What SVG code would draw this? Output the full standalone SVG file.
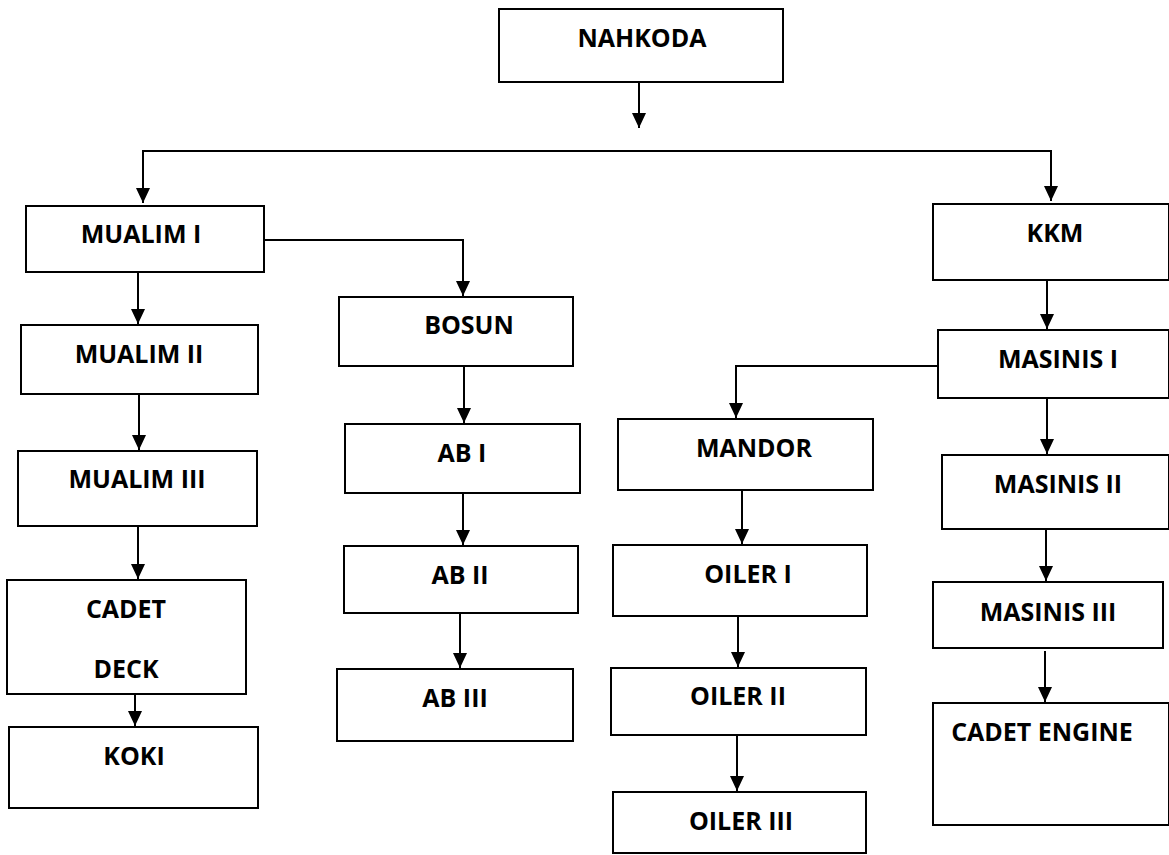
<svg xmlns="http://www.w3.org/2000/svg" width="1169" height="855" viewBox="0 0 1169 855">
<style>
.box{fill:#fff;stroke:#000;stroke-width:2}
.lbl{font-family:"Open Sans","Liberation Sans",sans-serif;font-weight:bold;font-size:25px;fill:#000;text-anchor:middle}
.con{fill:none;stroke:#000;stroke-width:2}
</style>
<defs>
<marker id="ah" markerUnits="userSpaceOnUse" viewBox="0 0 14 15" refX="7" refY="15" markerWidth="14" markerHeight="15" orient="0">
<path d="M0,0 L14,0 L7,15 z" fill="#000"/>
</marker>
</defs>
<rect width="1169" height="855" fill="#fff"/>
<g id="connectors">
<path class="con" d="M639,82 V128" marker-end="url(#ah)"/>
<path class="con" d="M143,203 V151 H1051 V201" marker-end="url(#ah)"/>
<path class="con" d="M143,151 V203" marker-end="url(#ah)"/>
<path class="con" d="M138,272 V324" marker-end="url(#ah)"/>
<path class="con" d="M264,240 H463 V296" marker-end="url(#ah)"/>
<path class="con" d="M139,394 V450" marker-end="url(#ah)"/>
<path class="con" d="M138,526 V579" marker-end="url(#ah)"/>
<path class="con" d="M135,694 V726" marker-end="url(#ah)"/>
<path class="con" d="M464,366 V423" marker-end="url(#ah)"/>
<path class="con" d="M463,493 V545" marker-end="url(#ah)"/>
<path class="con" d="M460,613 V668" marker-end="url(#ah)"/>
<path class="con" d="M1047,280 V329" marker-end="url(#ah)"/>
<path class="con" d="M938,366 H736 V418" marker-end="url(#ah)"/>
<path class="con" d="M742,490 V544" marker-end="url(#ah)"/>
<path class="con" d="M738,616 V667" marker-end="url(#ah)"/>
<path class="con" d="M737,735 V791" marker-end="url(#ah)"/>
<path class="con" d="M1047,398 V454" marker-end="url(#ah)"/>
<path class="con" d="M1046,529 V581" marker-end="url(#ah)"/>
<path class="con" d="M1045,651 V702" marker-end="url(#ah)"/>
</g>
<g id="nahkoda"><rect class="box" x="499" y="9" width="284" height="73"/><text class="lbl" x="642" y="47">NAHKODA</text></g>
<g id="mualim1"><rect class="box" x="26" y="206" width="238" height="66"/><text class="lbl" x="141" y="243">MUALIM I</text></g>
<g id="mualim2"><rect class="box" x="21" y="325" width="237" height="69"/><text class="lbl" x="139" y="363">MUALIM II</text></g>
<g id="mualim3"><rect class="box" x="18" y="451" width="239" height="75"/><text class="lbl" x="137" y="488">MUALIM III</text></g>
<g id="cadetdeck"><rect class="box" x="7" y="580" width="239" height="114"/><text class="lbl" x="126" y="618">CADET</text><text class="lbl" x="126" y="678">DECK</text></g>
<g id="koki"><rect class="box" x="9" y="727" width="249" height="81"/><text class="lbl" x="134" y="765">KOKI</text></g>
<g id="bosun"><rect class="box" x="339" y="297" width="234" height="69"/><text class="lbl" x="469" y="334">BOSUN</text></g>
<g id="ab1"><rect class="box" x="345" y="424" width="235" height="69"/><text class="lbl" x="462" y="462">AB I</text></g>
<g id="ab2"><rect class="box" x="344" y="546" width="234" height="67"/><text class="lbl" x="460" y="584">AB II</text></g>
<g id="ab3"><rect class="box" x="337" y="669" width="236" height="72"/><text class="lbl" x="455" y="707">AB III</text></g>
<g id="kkm"><rect class="box" x="933" y="204" width="236" height="76"/><text class="lbl" x="1055" y="242">KKM</text></g>
<g id="masinis1"><rect class="box" x="938" y="330" width="231" height="68"/><text class="lbl" x="1058" y="368">MASINIS I</text></g>
<g id="mandor"><rect class="box" x="618" y="419" width="255" height="71"/><text class="lbl" x="754" y="457">MANDOR</text></g>
<g id="oiler1"><rect class="box" x="613" y="545" width="254" height="71"/><text class="lbl" x="748" y="583">OILER I</text></g>
<g id="oiler2"><rect class="box" x="611" y="668" width="255" height="67"/><text class="lbl" x="738" y="705">OILER II</text></g>
<g id="oiler3"><rect class="box" x="613" y="792" width="253" height="61"/><text class="lbl" x="741" y="830">OILER III</text></g>
<g id="masinis2"><rect class="box" x="942" y="455" width="227" height="74"/><text class="lbl" x="1058" y="493">MASINIS II</text></g>
<g id="masinis3"><rect class="box" x="933" y="582" width="230" height="66"/><text class="lbl" x="1048" y="621">MASINIS III</text></g>
<g id="cadetengine"><rect class="box" x="933" y="703" width="236" height="122"/><text class="lbl" x="1042" y="741">CADET ENGINE</text></g>
</svg>
